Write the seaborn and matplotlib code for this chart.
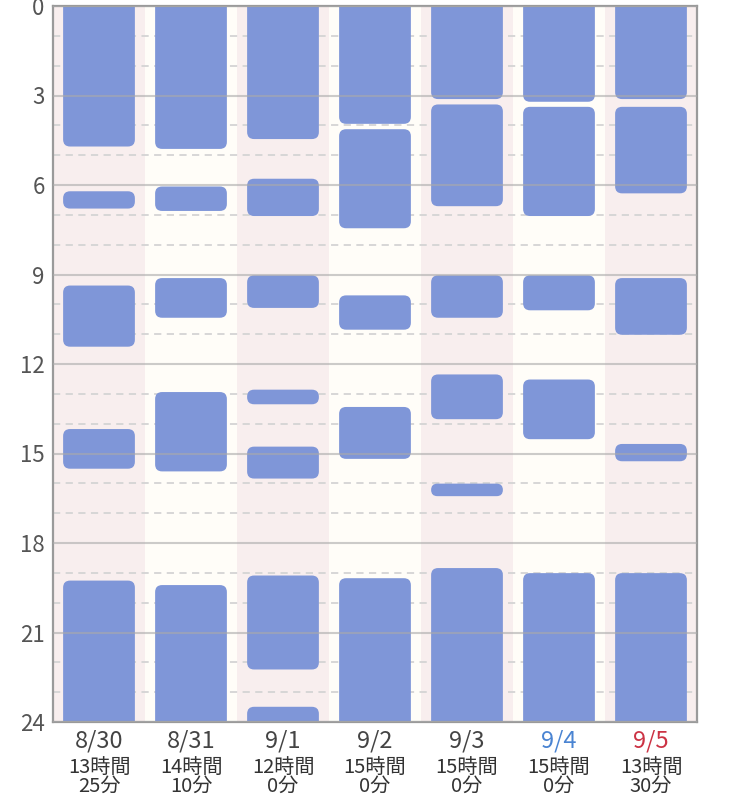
import pandas as pd
import seaborn as sns
import matplotlib.pyplot as plt
from matplotlib.patches import FancyBboxPatch

days = ["8/30", "8/31", "9/1", "9/2", "9/3", "9/4", "9/5"]
day_colors = ["#444444", "#444444", "#444444", "#444444", "#444444", "#4a84d2", "#cc3344"]
total_hours = [13, 14, 12, 15, 15, 15, 13]
total_minutes = [25, 10, 0, 0, 0, 0, 30]

# sleep periods, hours after midnight (start, end)
sleep_0830 = [(0, 4.71), (6.21, 6.79), (9.37, 11.42), (14.18, 15.51), (19.26, 24)]
sleep_0831 = [(0, 4.79), (6.05, 6.87), (9.12, 10.45), (12.94, 15.6), (19.41, 24)]
sleep_0901 = [(0, 4.46), (5.79, 7.04), (9.03, 10.12), (12.86, 13.35), (14.77, 15.84),
              (19.09, 22.24), (23.49, 24)]
sleep_0902 = [(0, 3.95), (4.13, 7.45), (9.7, 10.85), (13.44, 15.18), (19.18, 24)]
sleep_0903 = [(0, 3.12), (3.3, 6.71), (9.03, 10.45), (12.35, 13.85), (16.01, 16.43), (18.84, 24)]
sleep_0904 = [(0, 3.21), (3.38, 7.04), (9.03, 10.2), (12.52, 14.52), (19.01, 24)]
sleep_0905 = [(0, 3.12), (3.38, 6.28), (9.12, 11.02), (14.68, 15.26), (19.01, 24)]
sleep_periods = [sleep_0830, sleep_0831, sleep_0901, sleep_0902, sleep_0903, sleep_0904, sleep_0905]

bar_color = "#7f96d8"
bg_colors = ["#f8eeee", "#fffdf8"]


def main():
    sns.set_style("white")
    plt.rcParams["font.family"] = ["Noto Sans CJK JP", "DejaVu Sans"]

    rows = []
    for day, periods in zip(days, sleep_periods):
        for start, end in periods:
            rows.append({"day": day, "start": start, "length": end - start})
    df = pd.DataFrame(rows)

    fig = plt.figure(figsize=(7.5, 8.01), dpi=100)
    ax = fig.add_axes([53 / 750, 79 / 801, 644 / 750, 716 / 801])

    # one bar per sleep period, stacked from its start time
    for _, row in df.iterrows():
        sns.barplot(x=[row["day"]], y=[row["length"]], bottom=row["start"], order=days,
                    color=bar_color, saturation=1, width=0.78, errorbar=None,
                    linewidth=0, ax=ax)
    bars = list(ax.patches)

    ax.set_xlim(-0.5, len(days) - 0.5)
    ax.set_ylim(24, 0)

    # swap the plain rectangles for rounded ones
    p0, p1 = ax.transData.transform([(0, 0), (1, 1)])
    px_x = abs(p1[0] - p0[0])
    px_y = abs(p1[1] - p0[1])
    for bar in bars:
        x0, y0 = bar.get_x(), bar.get_y()
        w, h = bar.get_width(), bar.get_height()
        r_px = min(7, h * px_y / 2)
        if y0 <= 0:
            y0 -= 1
            h += 1
        if y0 + h >= 24:
            h += 1
        rounded = FancyBboxPatch((x0, y0), w, h,
                                 boxstyle=f"round,pad=0,rounding_size={r_px / px_x}",
                                 mutation_aspect=px_x / px_y, facecolor=bar_color,
                                 edgecolor="none", zorder=2, clip_on=True)
        bar.remove()
        ax.add_patch(rounded)

    for i in range(len(days)):
        ax.axvspan(i - 0.5, i + 0.5, color=bg_colors[i % 2], zorder=0, lw=0)

    for h in range(25):
        if h % 3 == 0:
            ax.axhline(h, color="#aaaaaa", lw=1.5, alpha=0.6, zorder=3)
        else:
            ax.axhline(h, color="#d4d4d4", lw=1.3, dashes=(4, 3), zorder=1)

    for side in ["left", "right", "top", "bottom"]:
        ax.spines[side].set_visible(True)
        ax.spines[side].set_color("#9a9a9a")
        ax.spines[side].set_linewidth(1.6)

    ax.set_yticks(range(0, 25, 3))
    ax.tick_params(axis="y", length=0, pad=6, labelsize=16, labelcolor="#555555")
    ax.set_xticks([])
    ax.set(xlabel=None, ylabel=None)

    trans = ax.get_xaxis_transform()
    for i, day in enumerate(days):
        ax.text(i, -0.026, day, transform=trans, ha="center", va="center",
                fontsize=17, color=day_colors[i])
        ax.text(i, -0.0765, f"{total_hours[i]}時間\n{total_minutes[i]}分", transform=trans,
                ha="center", va="center", fontsize=14.5, linespacing=0.9,
                color="#333333")

    plt.savefig("out.png", dpi=100)


if __name__ == "__main__":
    main()
